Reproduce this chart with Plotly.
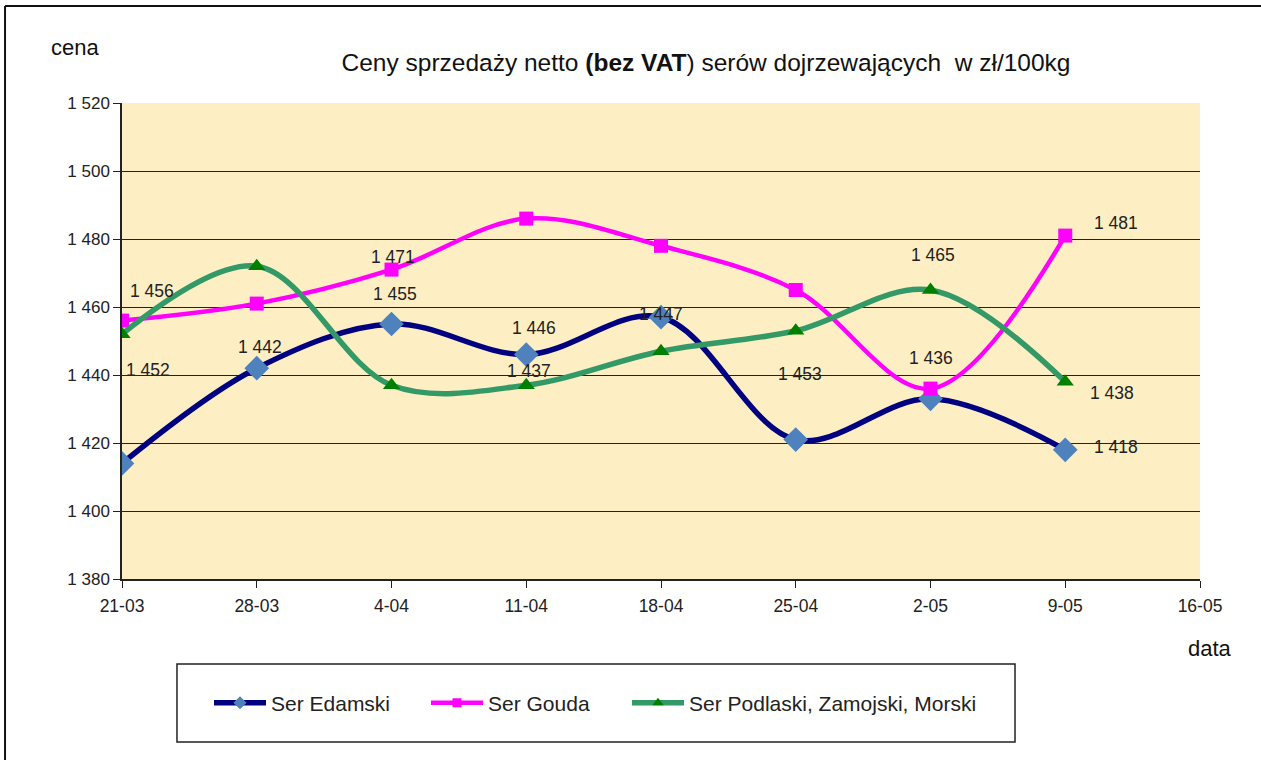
import plotly.graph_objects as go

dates = ["21-03", "28-03", "4-04", "11-04", "18-04", "25-04", "2-05", "9-05", "16-05"]
edamski = [1414, 1442, 1455, 1446, 1457, 1421, 1433, 1418]
gouda = [1456, 1461, 1471, 1486, 1478, 1465, 1436, 1481]
podlaski = [1452, 1472, 1437, 1437, 1447, 1453, 1465, 1438]
y_ticks = [1380, 1400, 1420, 1440, 1460, 1480, 1500, 1520]

names = ["Ser Edamski", "Ser Gouda", "Ser Podlaski, Zamojski, Morski"]

FONT = "Liberation Sans, Arial, sans-serif"
xs = list(range(len(dates) - 1))

styles = [
    dict(line=dict(color="#000080", width=5.5), symbol="diamond", size=19, msmall=10, mcolor="#4F81BD"),
    dict(line=dict(color="#FF00FF", width=4.5), symbol="square", size=14, msmall=9, mcolor="#FF00FF"),
    dict(line=dict(color="#339966", width=5.5), symbol="triangle-up", size=15, msmall=10, mcolor="#008000"),
]
data = [edamski, gouda, podlaski]
legend_ids = ["legend", "legend2", "legend3"]
legend_left_px = [209, 426, 627]

fig = go.Figure()
for name, vals, st in zip(names, data, styles):
    fig.add_trace(go.Scatter(x=xs, y=vals, name=name, mode="lines+markers", showlegend=False,
                             line=dict(color=st["line"]["color"], width=st["line"]["width"], shape="spline"),
                             marker=dict(symbol=st["symbol"], size=st["size"], color=st["mcolor"])))
for name, st, lid in zip(names, styles, legend_ids):
    fig.add_trace(go.Scatter(x=[None], y=[None], name=name, mode="lines+markers", legend=lid,
                             line=dict(color=st["line"]["color"], width=st["line"]["width"]),
                             marker=dict(symbol=st["symbol"], size=st["msmall"], color=st["mcolor"])))

series = {"e": edamski, "g": gouda, "p": podlaski}
# (series, index, xshift, yshift)
labels = [
    ("g", 0, 30, 30), ("p", 0, 26, -36), ("e", 1, 3, 21), ("g", 2, 1, 13),
    ("e", 2, 3, 30), ("e", 3, 8, 27), ("p", 3, 3, 14), ("p", 4, 0, 37),
    ("p", 5, 4, -43), ("p", 6, 2, 35), ("g", 6, 0, 31), ("g", 7, 51, 13),
    ("p", 7, 47, -11), ("e", 7, 51, 3),
]
for s, i, dx, dy in labels:
    v = series[s][i]
    fig.add_annotation(x=xs[i], y=v, text=f"{v:,}".replace(",", " "), showarrow=False,
                       xshift=dx, yshift=dy, font=dict(family=FONT, size=17.5, color="#222"))

fig.add_annotation(xref="paper", yref="paper", x=-0.0436, y=1.1176, text="cena",
                   xanchor="center", yanchor="middle",
                   showarrow=False, font=dict(family=FONT, size=22, color="#111"))
fig.add_annotation(xref="paper", yref="paper", x=1.0093, y=-0.145, text="data",
                   xanchor="center", yanchor="middle",
                   showarrow=False, font=dict(family=FONT, size=22, color="#111"))

# legend box and outer border (top and left edges only)
fig.add_shape(type="rect", xref="paper", yref="paper", x0=0.051, x1=0.8284, y0=-0.3424, y1=-0.1786,
              line=dict(color="#222", width=1.5), fillcolor="rgba(0,0,0,0)")
fig.add_shape(type="line", xref="paper", yref="paper", x0=-0.1085, x1=1.3, y0=1.2038, y1=1.2038,
              line=dict(color="#111", width=2))
fig.add_shape(type="line", xref="paper", yref="paper", x0=-0.1085, x1=-0.1085, y0=-0.6, y1=1.2038,
              line=dict(color="#111", width=2))

legend_common = dict(orientation="h", y=-0.2605, xanchor="left", yanchor="middle",
                     bgcolor="rgba(0,0,0,0)", borderwidth=0, itemwidth=52,
                     font=dict(family=FONT, size=21, color="#222"))
legends = {lid: dict(legend_common, x=(px - 122) / 1078) for lid, px in zip(legend_ids, legend_left_px)}

fig.update_layout(
    width=1261, height=760,
    margin=dict(l=122, r=61, t=103, b=181),
    paper_bgcolor="white", plot_bgcolor="#FDEFC3",
    font=dict(family=FONT, size=17, color="#222"),
    title=dict(text="Ceny sprzedaży netto <b>(bez VAT</b>) serów dojrzewających  w zł/100kg",
               x=706 / 1261, xanchor="center", y=1 - 62 / 760, yanchor="middle",
               font=dict(family=FONT, size=24.5, color="#111")),
    showlegend=True,
    xaxis=dict(range=[0, len(dates) - 1], tickvals=list(range(len(dates))), ticktext=dates,
               showgrid=False, showline=True, linecolor="#222", linewidth=1.5,
               ticks="outside", ticklen=7, tickcolor="#222", zeroline=False,
               ticklabelstandoff=3, tickfont=dict(size=17.5)),
    yaxis=dict(range=[y_ticks[0], y_ticks[-1]], tickvals=y_ticks,
               ticktext=[f"{v:,}".replace(",", " ") for v in y_ticks],
               showgrid=True, gridcolor="#222", gridwidth=1,
               showline=True, linecolor="#222", linewidth=1.5,
               ticks="outside", ticklen=7, tickcolor="#222", zeroline=False,
               tickfont=dict(size=17)),
    **legends,
)

fig.write_html("out.html", config={"displayModeBar": False},
               post_script="document.body.style.margin='0';document.body.style.overflow='hidden';")
